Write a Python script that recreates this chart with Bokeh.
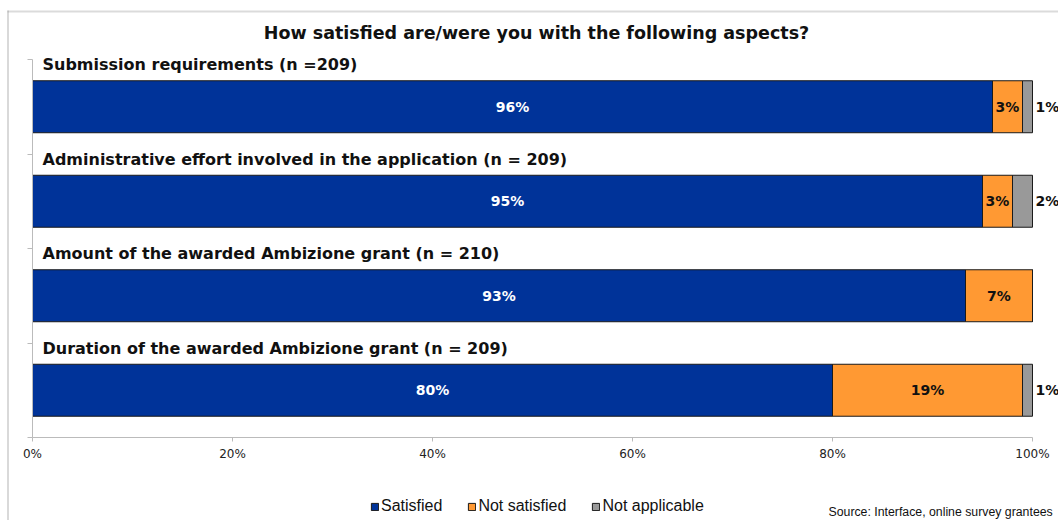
from bokeh.plotting import figure
from bokeh.models import ColumnDataSource, FixedTicker, Label, Legend, LegendItem, PolyAnnotation
from bokeh.core.properties import value
from bokeh.embed import file_html
from bokeh.resources import INLINE

# ---- data ----
categories = [
    "Submission requirements (n =209)",
    "Administrative effort involved in the application (n = 209)",
    "Amount of the awarded Ambizione grant (n = 210)",
    "Duration of the awarded Ambizione grant (n = 209)",
]
satisfied = [96, 95, 93.3, 80]
not_satisfied = [3, 3, 6.7, 19]
not_applicable = [1, 2, 0, 1]
series_names = ["Satisfied", "Not satisfied", "Not applicable"]
series_colors = ["#003399", "#FF9933", "#999999"]
x_ticks = [0, 20, 40, 60, 80, 100]
x_tick_labels = ["0%", "20%", "40%", "60%", "80%", "100%"]
title_text = "How satisfied are/were you with the following aspects?"
source_note = "Source:  Interface, online survey grantees"

n = len(categories)
ypos = [n - i - 0.5 for i in range(n)]
BAR_H = 0.55

W, H = 1058, 520
# frame covers whole canvas; axes placed at fixed data locations
X0_PX, X_SCALE = 32, 10.0          # pixel of 0%, pixels per %
Y0_PX, Y_SCALE = 437, 94.5         # pixel of y=0 (from top), pixels per category band
x_range = (-X0_PX / X_SCALE, (W - X0_PX) / X_SCALE)
y_range = (-(H - Y0_PX) / Y_SCALE, n + (Y0_PX - n * Y_SCALE) / Y_SCALE)

src = ColumnDataSource(dict(y=ypos, sat=satisfied, ns=not_satisfied, na=not_applicable, cat=categories))

p = figure(width=W, height=H, x_range=x_range, y_range=y_range,
           output_backend="svg", toolbar_location=None,
           min_border=0, min_border_left=0, min_border_right=0, min_border_top=0, min_border_bottom=0)
p.outline_line_color = None
p.xgrid.visible = False
p.ygrid.visible = False
p.background_fill_color = "white"
p.border_fill_color = "white"

# chart-area border (left and top edges)
p.add_layout(PolyAnnotation(xs=[7.5, 7.5], ys=[-5, H - 10], xs_units="screen", ys_units="screen",
                            line_color="#000000", line_width=1, fill_alpha=0))
p.add_layout(PolyAnnotation(xs=[7, W + 5], ys=[H - 11, H - 11], xs_units="screen", ys_units="screen",
                            line_color="#888888", line_width=2, fill_alpha=0))

rs = p.hbar_stack(["sat", "ns", "na"], y="y", height=BAR_H, color=series_colors,
                  line_color="#1a1a1a", line_width=1, source=src)

# axes
xa = p.xaxis[0]
xa.fixed_location = 0
xa.bounds = (0, 100)
xa.ticker = FixedTicker(ticks=x_ticks)
xa.major_label_overrides = {t: l for t, l in zip(x_ticks, x_tick_labels)}
xa.major_label_text_font = "DejaVu Sans"
xa.major_label_text_font_size = "12px"
xa.major_label_text_color = "#222222"
xa.major_tick_in = 0
xa.major_tick_out = 4
xa.minor_tick_line_color = None
xa.axis_line_color = "#bbbbbb"
xa.major_tick_line_color = "#bbbbbb"
xa.major_label_standoff = 5

ya = p.yaxis[0]
ya.fixed_location = 0
ya.bounds = (0, n)
ya.ticker = FixedTicker(ticks=list(range(n + 1)))
ya.major_label_overrides = {i: "" for i in range(n + 1)}
ya.major_tick_in = 0
ya.major_tick_out = 5
ya.minor_tick_line_color = None
ya.axis_line_color = "#bbbbbb"
ya.major_tick_line_color = "#bbbbbb"

# category labels above each bar
cat_src = ColumnDataSource(dict(x=[0] * n, y=[y + BAR_H / 2 + 0.17 for y in ypos], t=categories))
p.text(x="x", y="y", text="t", source=cat_src, x_offset=10,
       text_font=value("DejaVu Sans"), text_font_style="bold", text_font_size="16px",
       text_color="#111111", text_align="left", text_baseline="alphabetic")

# value labels
lx, ly, lt, lc, la, lo = [], [], [], [], [], []
for i in range(n):
    s, ns, na = satisfied[i], not_satisfied[i], not_applicable[i]
    if s > 0:
        lx.append(s / 2); ly.append(ypos[i]); lt.append(f"{round(s)}%"); lc.append("white"); la.append("center"); lo.append(0)
    if ns > 0:
        lx.append(s + ns / 2); ly.append(ypos[i]); lt.append(f"{round(ns)}%"); lc.append("#111111"); la.append("center"); lo.append(0)
    if na > 0:
        lx.append(s + ns + na); ly.append(ypos[i]); lt.append(f"{round(na)}%"); lc.append("#111111"); la.append("left"); lo.append(3)
val_src = ColumnDataSource(dict(x=lx, y=ly, t=lt, c=lc, a=la, o=lo))
p.text(x="x", y="y", text="t", source=val_src, x_offset="o",
       text_font=value("DejaVu Sans"), text_font_style="bold", text_font_size="14px",
       text_color="c", text_align="a", text_baseline="middle")

# title
p.add_layout(Label(x=536, y=H - 32, x_units="screen", y_units="screen", text=title_text,
                   text_font="DejaVu Sans", text_font_style="bold", text_font_size="17.5px",
                   text_color="#111111", text_align="center", text_baseline="middle"))

# source note
p.add_layout(Label(x=828, y=H - 511, x_units="screen", y_units="screen", text=source_note,
                   text_font="Liberation Sans", text_font_size="12.3px",
                   text_color="#111111", text_align="left", text_baseline="middle"))

# legend
legend = Legend(items=[LegendItem(label=nm, renderers=[r]) for nm, r in zip(series_names, rs)],
                location=(370, H - 515), orientation="horizontal",
                glyph_width=9, glyph_height=9, label_standoff=2, spacing=25,
                padding=0, margin=0, border_line_color=None, background_fill_alpha=0,
                label_text_font="Liberation Sans",
                label_text_font_size="16px", label_text_color="#111111",
                label_height=18)
p.add_layout(legend)

open("out.html", "w").write(file_html(p, INLINE))
